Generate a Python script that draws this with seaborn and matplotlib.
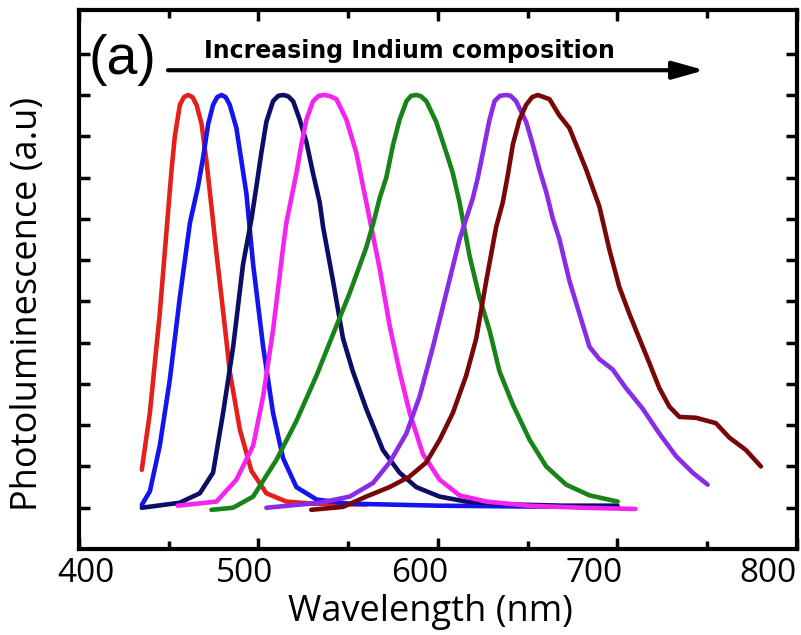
import numpy as np
import pandas as pd
import matplotlib
matplotlib.use("Agg")
import matplotlib.pyplot as plt
import seaborn as sns
from matplotlib.ticker import MultipleLocator, FixedLocator, NullFormatter
from matplotlib.transforms import ScaledTranslation

# Normalised PL spectra, one per InGaN sample (wavelength in nm, intensity a.u.)
red_wl = [435, 439.5, 445, 449.7, 451.6, 453.4, 456.2, 458.5, 460.8, 463.2, 465.5, 468.3, 471, 473.8, 476.5, 479.4, 482, 484, 489.6, 496, 504.4, 515.5, 530, 545, 560]
red_pl = [0.092, 0.23, 0.47, 0.72, 0.82, 0.90, 0.976, 0.995, 1.0, 0.995, 0.976, 0.93, 0.84, 0.73, 0.62, 0.51, 0.41, 0.33, 0.19, 0.09, 0.035, 0.015, 0.01, 0.008, 0.008]

blue_wl = [435, 439.5, 445, 450.6, 456.2, 461.8, 466.4, 469.2, 472, 474.7, 477, 479.4, 481.7, 484, 487.7, 490.5, 493.3, 497, 502.6, 508.1, 513.7, 521.1, 532.3, 550, 600, 650, 700]
blue_pl = [0.007, 0.04, 0.15, 0.31, 0.51, 0.69, 0.78, 0.85, 0.93, 0.976, 0.995, 1.0, 0.995, 0.976, 0.92, 0.84, 0.76, 0.59, 0.39, 0.23, 0.12, 0.05, 0.02, 0.01, 0.005, 0.003, 0.003]

navy_wl = [435, 456, 467.3, 474.7, 480.3, 485.9, 491.4, 496.1, 498.9, 501.6, 504.4, 508.1, 511, 513.7, 516.5, 519.3, 523, 526.7, 530.4, 534.1, 536, 541.5, 547.1, 552.6, 560, 569.3, 578.6, 587.9, 600.9, 615.7, 640, 670, 700]
navy_pl = [0.0, 0.012, 0.035, 0.085, 0.23, 0.39, 0.59, 0.70, 0.78, 0.86, 0.935, 0.985, 0.998, 1.0, 0.997, 0.985, 0.94, 0.886, 0.81, 0.74, 0.68, 0.55, 0.41, 0.33, 0.24, 0.14, 0.085, 0.05, 0.027, 0.015, 0.008, 0.005, 0.005]

magenta_wl = [455, 476.6, 487.7, 497, 502.6, 508.1, 513.7, 515.5, 518.3, 521.1, 523.9, 526.7, 530.4, 533.5, 536.9, 540, 543.4, 549, 554.5, 558.2, 561.9, 567.5, 573.1, 578.6, 584.2, 591.6, 600.9, 612, 626.9, 650, 680, 710]
magenta_pl = [0.005, 0.015, 0.068, 0.15, 0.27, 0.43, 0.63, 0.69, 0.75, 0.81, 0.88, 0.94, 0.985, 0.998, 1.0, 0.997, 0.99, 0.94, 0.86, 0.78, 0.70, 0.58, 0.44, 0.33, 0.23, 0.13, 0.068, 0.03, 0.015, 0.005, 0.0, -0.003]

green_wl = [473.8, 485.8, 497, 510, 521.1, 532.3, 541.5, 550.8, 560, 564, 567.5, 571.2, 575, 578.6, 582.4, 585, 587.9, 590.5, 593.5, 599, 602.7, 606.5, 608.3, 612, 617.6, 623.1, 628.7, 634.3, 641.7, 651, 660.3, 671.4, 684.4, 700.1]
green_pl = [-0.005, 0.0, 0.027, 0.116, 0.21, 0.32, 0.42, 0.52, 0.63, 0.69, 0.75, 0.80, 0.88, 0.94, 0.985, 0.998, 1.0, 0.997, 0.985, 0.935, 0.886, 0.835, 0.81, 0.74, 0.61, 0.51, 0.43, 0.33, 0.25, 0.165, 0.10, 0.056, 0.03, 0.015]

violet_wl = [504.4, 534, 550.8, 563.8, 573.1, 582.4, 589.8, 597.2, 604.6, 612, 619.4, 622.2, 625, 628.7, 631.5, 634.5, 638, 640.5, 643.5, 649.1, 652.8, 656.5, 660.3, 664, 667.7, 673.2, 678.8, 684.4, 689.9, 697.3, 704.7, 714, 723.3, 732.6, 741.9, 750.2]
violet_pl = [0.0, 0.012, 0.027, 0.06, 0.11, 0.18, 0.27, 0.39, 0.52, 0.65, 0.75, 0.80, 0.86, 0.94, 0.985, 0.998, 1.0, 0.998, 0.985, 0.935, 0.88, 0.82, 0.765, 0.70, 0.65, 0.55, 0.47, 0.39, 0.36, 0.335, 0.29, 0.24, 0.18, 0.125, 0.085, 0.056]

maroon_wl = [529.4, 547, 560, 573, 584, 593.5, 601, 608.3, 615.7, 621.3, 626.9, 632.4, 636.1, 638.9, 641.7, 645.4, 649.1, 652.5, 655.6, 662.1, 667.7, 673.2, 678.8, 682.5, 686.2, 689.9, 695.5, 701, 706.6, 712.2, 717.8, 723.3, 728.9, 734.5, 743.7, 754.8, 762.3, 771.5, 779.9]
maroon_pl = [-0.005, 0.002, 0.027, 0.05, 0.075, 0.11, 0.165, 0.23, 0.32, 0.41, 0.55, 0.68, 0.74, 0.806, 0.88, 0.94, 0.976, 0.995, 1.0, 0.99, 0.95, 0.92, 0.86, 0.82, 0.775, 0.73, 0.625, 0.535, 0.47, 0.41, 0.35, 0.29, 0.245, 0.22, 0.218, 0.205, 0.17, 0.14, 0.10]

series = [
    (red_wl, red_pl, "#e3201b"),
    (blue_wl, blue_pl, "#1414f0"),
    (navy_wl, navy_pl, "#0d0d66"),
    (magenta_wl, magenta_pl, "#f523f0"),
    (green_wl, green_pl, "#188418"),
    (violet_wl, violet_pl, "#8a2be6"),
    (maroon_wl, maroon_pl, "#780808"),
]

x_ticks = [400, 500, 600, 700, 800]
# horizontal nudge (pixels) of each wavelength label relative to its tick
x_label_shift = [7, -14, -18, -23, -29]
y_ticks = [0.0, 0.1, 0.2, 0.3, 0.4, 0.5, 0.6, 0.7, 0.8, 0.9, 1.0, 1.1]

sns.set_theme(style="white")
plt.rcParams["font.family"] = ["Open Sans", "DejaVu Sans"]
plt.rcParams["text.color"] = "black"
plt.rcParams["axes.labelcolor"] = "black"
plt.rcParams["xtick.color"] = "black"
plt.rcParams["ytick.color"] = "black"

fig = plt.figure(figsize=(8.01, 6.35), dpi=100)
ax = fig.add_axes([0.0986, 0.1354, 0.8964, 0.8489])

for wl, pl, col in series:
    sns.lineplot(x=wl, y=pl, color=col, linewidth=3.3, ax=ax, sort=False)

ax.set_xlim(400, 800)
ax.set_ylim(-0.1, 1.206)
ax.set_xticks(x_ticks)
ax.set_xticklabels([str(t) for t in x_ticks])
ax.xaxis.set_minor_locator(MultipleLocator(50))
ax.yaxis.set_major_locator(FixedLocator(y_ticks))
ax.yaxis.set_major_formatter(NullFormatter())

for side in ax.spines.values():
    side.set_linewidth(3)
    side.set_color("black")

ax.tick_params(axis="both", which="both", direction="in", top=True, right=True,
               bottom=True, left=True, width=2.5, color="black", labelcolor="black")
ax.tick_params(axis="both", which="major", length=8)
ax.tick_params(axis="both", which="minor", length=6)
ax.tick_params(axis="x", which="major", labelsize=24, pad=6)

for lab, dx in zip(ax.get_xticklabels(), x_label_shift):
    lab.set_transform(lab.get_transform() + ScaledTranslation(dx / 100, 0, fig.dpi_scale_trans))

ax.set_xlabel("Wavelength (nm)", fontsize=26, va="top", color="black")
ax.xaxis.set_label_coords(0.489, -0.083)
ax.set_ylabel("Photoluminescence (a.u)", fontsize=26, color="black")
ax.yaxis.set_label_coords(-0.046, 0.4545)

ax.text(424, 1.085, "(a)", fontsize=40, family=["Liberation Sans", "DejaVu Sans"],
        ha="center", va="center", color="black")
ax.annotate("", xy=(750, 1.06), xytext=(448, 1.06),
            arrowprops=dict(arrowstyle="-|>,head_length=1.6,head_width=0.45",
                            lw=3, color="black"))
ax.text(584, 1.107, "Increasing Indium composition", fontsize=17, fontweight="bold",
        family=["DejaVu Sans"], ha="center", va="center", color="black")

fig.savefig("out.png", dpi=100)
